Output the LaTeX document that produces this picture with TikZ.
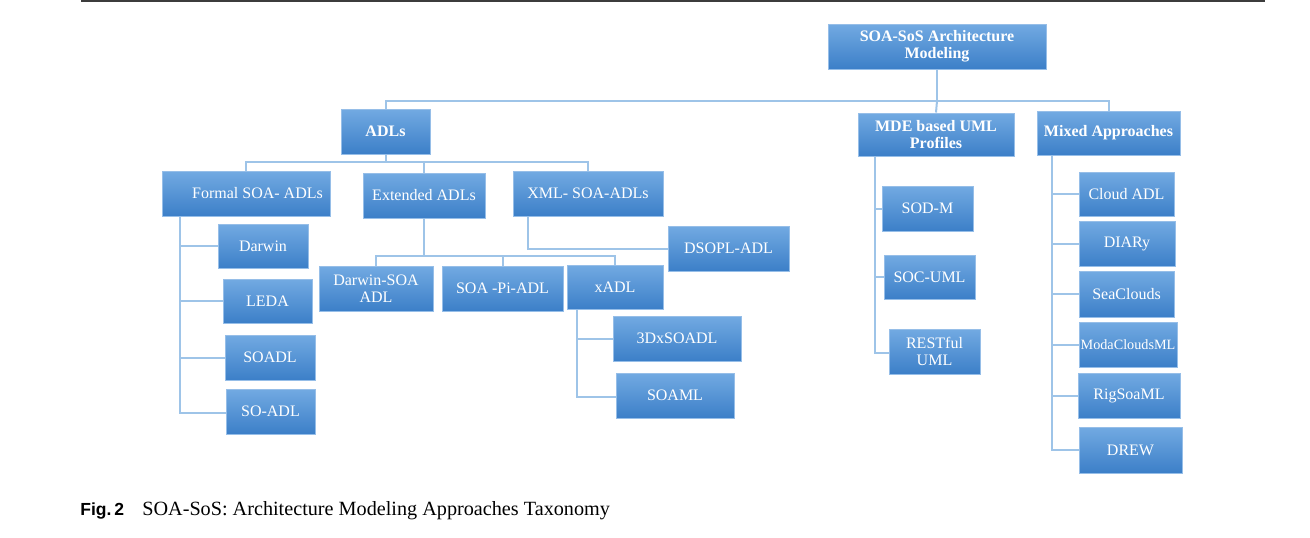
\documentclass[tikz,border=0pt]{standalone}
\usepackage{fontspec}
\setmainfont{Liberation Serif}
\setsansfont{Liberation Sans}
\definecolor{boxtop}{RGB}{114,170,226}
\definecolor{boxbot}{RGB}{60,127,200}
\definecolor{boxedge}{RGB}{150,190,232}
\definecolor{linkblue}{RGB}{158,196,232}
\definecolor{rulegray}{RGB}{60,60,60}
\tikzset{every picture/.style={line width=0.75pt}}
\tikzset{
taxbox/.style={draw=boxedge, line width=1pt, top color=boxtop, bottom color=boxbot, text=white, align=center, inner sep=1pt, font=\fontsize{16}{17}\selectfont},
taxhead/.style={taxbox, font=\fontsize{16}{17}\selectfont\bfseries},
boxsize/.style 2 args={minimum width=#1, minimum height=#2},
link/.style={draw=linkblue, line width=2pt}}

\begin{document}
\begin{tikzpicture}[x=1pt,y=1pt,yscale=-1,xscale=1]
\useasboundingbox (0,0) rectangle (1310,538);

%Straight Lines: page rule
\draw [color=rulegray, line width=2.5pt] (81,1) -- (1265,1) ;

% Top level
\node [taxhead, boxsize={218pt}{45pt}] (root) at (937,46.5) {SOA-SoS Architecture\\Modeling};
\node [taxhead, boxsize={89pt}{45pt}] (adl) at (385.5,131.5) {ADLs};
\node [taxhead, boxsize={156pt}{43pt}] (mde) at (936,134.5) {MDE based UML\\Profiles};
\node [taxhead, boxsize={143pt}{44pt}] (mix) at (1108.5,133) {Mixed Approaches};

% ADL families
\node [taxbox, boxsize={168pt}{45pt}] (formal) at (246,193.5) {\hspace*{23pt}Formal SOA- ADLs};
\node [taxbox, boxsize={122pt}{45pt}] (ext) at (424,195.5) {Extended ADLs};
\node [taxbox, boxsize={150pt}{45pt}] (xml) at (588,193.5) {XML- SOA-ADLs};

% Formal SOA-ADLs
\node [taxbox, boxsize={90pt}{44pt}] (darwin) at (263,246) {Darwin};
\node [taxbox, boxsize={89pt}{44pt}] (leda) at (267.5,301) {LEDA};
\node [taxbox, boxsize={90pt}{45pt}] (soadl) at (270,357.5) {SOADL};
\node [taxbox, boxsize={89pt}{45pt}] (soadlb) at (270.5,411.5) {SO-ADL};

% Extended ADLs
\node [taxbox, boxsize={114pt}{45pt}] (dsoa) at (376,288.5) {Darwin-SOA\\ADL};
\node [taxbox, boxsize={121pt}{45pt}] (piadl) at (502.5,288.5) {SOA -Pi-ADL};
\node [taxbox, boxsize={96pt}{44pt}] (xadl) at (615,287) {xADL};
\node [taxbox, boxsize={128pt}{45pt}] (dxsoadl) at (677,338.5) {3DxSOADL};
\node [taxbox, boxsize={118pt}{45pt}] (soaml) at (675,395.5) {SOAML};

% XML SOA-ADLs
\node [taxbox, boxsize={121pt}{45pt}] (dsopl) at (728.5,248.5) {DSOPL-ADL};

% MDE based UML profiles
\node [taxbox, boxsize={91pt}{45pt}] (sodm) at (927.5,208.5) {SOD-M};
\node [taxbox, boxsize={91pt}{44pt}] (socuml) at (929.5,277) {SOC-UML};
\node [taxbox, boxsize={91pt}{45pt}] (restuml) at (934.5,351.5) {RESTful\\UML};

% Mixed approaches
\node [taxbox, boxsize={95pt}{44pt}] (cloud) at (1126.5,194) {Cloud ADL};
\node [taxbox, boxsize={96pt}{45pt}] (diary) at (1127,243.5) {DIARy};
\node [taxbox, boxsize={95pt}{46pt}] (seac) at (1126.5,294) {SeaClouds};
\node [taxbox, boxsize={98pt}{45pt}, font=\fontsize{14.2}{17}\selectfont] (moda) at (1128,344.5) {ModaCloudsML};
\node [taxbox, boxsize={102pt}{45pt}] (rig) at (1129,395.5) {RigSoaML};
\node [taxbox, boxsize={103pt}{46pt}] (drew) at (1130.5,450) {DREW};

% Bus points
\coordinate (rootbus) at (937,101);
\coordinate (adlbus) at (385.5,162);
\coordinate (extbus) at (424,256);

%Straight Lines: root to families
\draw [link] (root.south) -- (rootbus) -| (adl.north) ;
\draw [link] (rootbus) -- (mde.north) ;
\draw [link] (rootbus) -| (mix.north) ;
%Straight Lines: ADLs
\draw [link] (adl.south) -- (adlbus) -| (formal.north) ;
\draw [link] (adlbus) -| (ext.north) ;
\draw [link] (adlbus) -| (xml.north) ;
%Straight Lines: formal
\draw [link] ([xshift=18pt]formal.south west) |- (darwin.west) ;
\draw [link] ([xshift=18pt]formal.south west) |- (leda.west) ;
\draw [link] ([xshift=18pt]formal.south west) |- (soadl.west) ;
\draw [link] ([xshift=18pt]formal.south west) |- ([yshift=1.5pt]soadlb.west) ;
%Straight Lines: extended
\draw [link] (ext.south) -- (extbus) -| (dsoa.north) ;
\draw [link] (extbus) -| (piadl.north) ;
\draw [link] (extbus) -| (xadl.north) ;
\draw [link] ([xshift=10pt]xadl.south west) |- (dxsoadl.west) ;
\draw [link] ([xshift=10pt]xadl.south west) |- ([yshift=1.5pt]soaml.west) ;
%Straight Lines: xml
\draw [link] ([xshift=15pt]xml.south west) |- (dsopl.west) ;
%Straight Lines: mde
\draw [link] ([xshift=17pt]mde.south west) |- (sodm.west) ;
\draw [link] ([xshift=17pt]mde.south west) |- (socuml.west) ;
\draw [link] ([xshift=17pt]mde.south west) |- ([yshift=1.5pt]restuml.west) ;
%Straight Lines: mixed
\draw [link] ([xshift=15pt]mix.south west) |- (cloud.west) ;
\draw [link] ([xshift=15pt]mix.south west) |- (diary.west) ;
\draw [link] ([xshift=15pt]mix.south west) |- (seac.west) ;
\draw [link] ([xshift=15pt]mix.south west) |- (moda.west) ;
\draw [link] ([xshift=15pt]mix.south west) |- (rig.west) ;
\draw [link] ([xshift=15pt]mix.south west) |- (drew.west) ;

% Text Node
\node [anchor=base west, inner sep=0pt, font=\sffamily\bfseries\fontsize{17.5}{20}\selectfont] (figno) at (80,515) {Fig.\,2};
% Text Node
\node [anchor=base west, inner sep=0pt, font=\fontsize{20.2}{22}\selectfont] (figcap) at (142,515) {SOA-SoS: Architecture Modeling Approaches Taxonomy};

\end{tikzpicture}
\end{document}
